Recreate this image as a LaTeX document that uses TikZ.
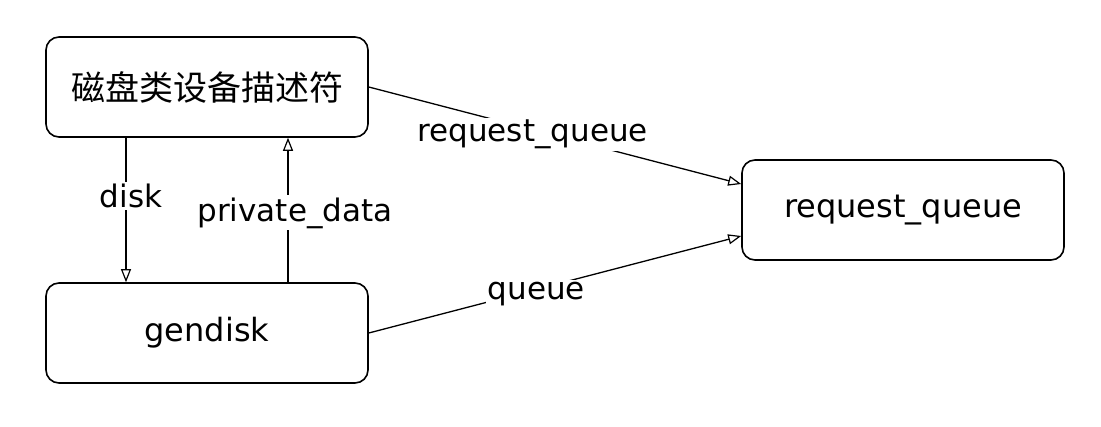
\documentclass[tikz,border=0pt]{standalone}
\usepackage{fontspec}
\setmainfont{DejaVu Sans}
\newfontfamily\cjk{Noto Sans CJK SC}
\usetikzlibrary{arrows.meta}
\begin{document}
\begin{tikzpicture}[x=1pt,y=-1pt,
  boxnode/.style={draw, line width=1.6pt, rounded corners=13pt, minimum width=322pt, minimum height=100pt, inner sep=0pt},
  conn/.style={line width=1.3pt, -{Triangle[open, length=13pt, width=10pt, line width=1.2pt]}},
  lbl/.style={fill=white, inner sep=2pt, font=\fontsize{31}{36}\selectfont}]
\useasboundingbox (0,0) rectangle (1101,427);
\node[boxnode] (b1) at (207,87) {\cjk\fontsize{34}{40}\selectfont 磁盘类设备描述符};
\node[boxnode] (b2) at (207,333) {\fontsize{32}{38}\selectfont gendisk};
\node[boxnode] (b3) at (903,210) {\fontsize{32}{38}\selectfont request\_queue};
\coordinate (d1) at ([xshift=-81pt]b1.south);
\coordinate (d2) at ([xshift=-81pt]b2.north);
\coordinate (p1) at ([xshift=81pt]b1.south);
\coordinate (p2) at ([xshift=81pt]b2.north);
\draw[conn] (d1) -- node[lbl, pos=0.40, xshift=5pt] {disk} (d2);
\draw[conn] (p2) -- node[lbl, pos=0.48, xshift=7pt] {private\_data} (p1);
\draw[conn] (b1.east) -- node[lbl, pos=0.44, yshift=-5pt] {request\_queue} ([yshift=26pt]b3.west);
\draw[conn] (b2.east) -- node[lbl, pos=0.45, yshift=-5pt] {queue} ([yshift=-26pt]b3.west);
\end{tikzpicture}
\end{document}
